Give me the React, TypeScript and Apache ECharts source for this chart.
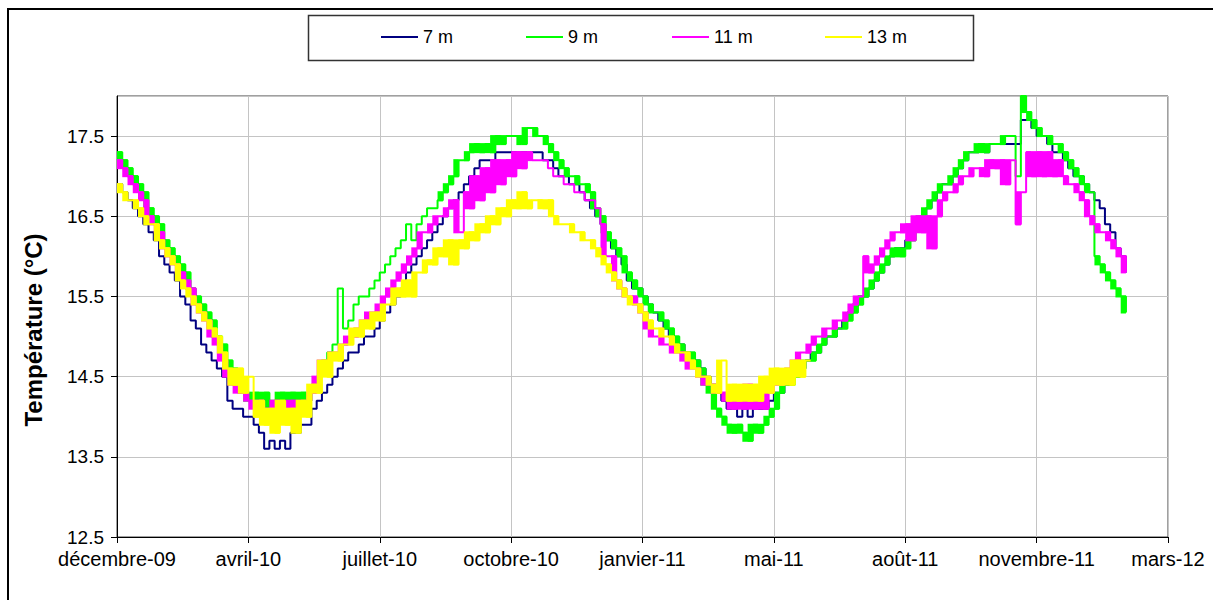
import React, { useEffect, useRef } from "react";
import * as echarts from "echarts";

// Day 0 of the x axis = 24 Dec 2009 ; samples every 4 days
const STEP_DAYS = 4;
const X_TICK_LABELS = [
  "décembre-09", "avril-10", "juillet-10", "octobre-10", "janvier-11",
  "mai-11", "août-11", "novembre-11", "mars-12",
];
const SERIES_NAMES = ["7 m", "9 m", "11 m", "13 m"];
const SERIES_COLORS = ["#000080", "#00FF00", "#FF00FF", "#FFFF00"];
// which series show a dense jitter band (drawn as filled steps)
const SERIES_NOISY = [false, true, true, true];
// day ranges where that jitter is small (plain thin line)
const SERIES_THIN_RANGES = [[], [[144, 244]], [[320, 368]], []];

// 7 m
const T7 = [
  16.9, 16.8, 16.7, 16.6, 16.5, 16.4, 16.3, 16.2, 16.0, 15.9,
  15.8, 15.7, 15.5, 15.4, 15.2, 15.1, 14.9, 14.8, 14.7, 14.6,
  14.5, 14.2, 14.1, 14.1, 14.0, 14.0, 13.9, 13.8, 13.6, 13.7,
  13.6, 13.7, 13.6, 13.8, 13.8, 13.9, 13.9, 14.1, 14.2, 14.3,
  14.4, 14.5, 14.6, 14.7, 14.8, 14.8, 14.9, 15.0, 15.0, 15.1,
  15.2, 15.3, 15.4, 15.5, 15.6, 15.8, 15.9, 16.0, 16.1, 16.2,
  16.3, 16.4, 16.5, 16.6, 16.7, 16.8, 16.9, 17.0, 17.1, 17.2,
  17.2, 17.2, 17.3, 17.3, 17.3, 17.3, 17.3, 17.3, 17.3, 17.3,
  17.3, 17.2, 17.2, 17.1, 17.0, 17.0, 16.9, 16.9, 16.8, 16.7,
  16.6, 16.5, 16.4, 16.2, 16.1, 16.0, 15.9, 15.7, 15.6, 15.6,
  15.5, 15.4, 15.3, 15.2, 15.1, 15.0, 14.9, 14.9, 14.8, 14.7,
  14.7, 14.6, 14.5, 14.4, 14.3, 14.2, 14.1, 14.1, 14.0, 14.1,
  14.0, 14.1, 14.1, 14.1, 14.2, 14.3, 14.3, 14.4, 14.5, 14.5,
  14.6, 14.7, 14.8, 14.8, 14.9, 15.0, 15.0, 15.1, 15.2, 15.3,
  15.4, 15.5, 15.5, 15.6, 15.7, 15.8, 15.9, 16.0, 16.1, 16.1,
  16.2, 16.3, 16.4, 16.5, 16.6, 16.7, 16.8, 16.9, 16.9, 17.0,
  17.1, 17.2, 17.3, 17.3, 17.4, 17.3, 17.4, 17.4, 17.4, 17.4,
  17.4, 17.4, 17.7, 17.7, 17.6, 17.5, 17.5, 17.4, 17.3, 17.3,
  17.2, 17.1, 17.0, 17.0, 16.9, 16.8, 16.7, 16.6, 16.4, 16.3,
  16.1, 16.0, 15.8,
];

// 9 m
const T9 = [
  17.3, 17.2, 17.1, 17.0, 16.9, 16.8, 16.6, 16.5, 16.4, 16.2,
  16.1, 16.0, 15.9, 15.8, 15.6, 15.5, 15.4, 15.3, 15.2, 15.0,
  14.9, 14.7, 14.6, 14.4, 14.3, 14.2, 14.3, 14.1, 14.3, 14.1,
  14.2, 14.3, 14.1, 14.3, 14.2, 14.3, 14.2, 14.4, 14.5, 14.7,
  14.8, 14.9, 15.6, 15.1, 15.2, 15.4, 15.5, 15.5, 15.6, 15.7,
  15.8, 15.9, 16.0, 16.1, 16.2, 16.4, 16.2, 16.4, 16.5, 16.6,
  16.6, 16.7, 16.8, 16.9, 17.0, 17.2, 17.2, 17.3, 17.4, 17.3,
  17.4, 17.3, 17.5, 17.4, 17.5, 17.5, 17.5, 17.4, 17.6, 17.6,
  17.5, 17.5, 17.4, 17.3, 17.2, 17.1, 17.0, 17.0, 16.9, 16.9,
  16.8, 16.6, 16.5, 16.3, 16.2, 16.1, 16.0, 15.8, 15.7, 15.6,
  15.5, 15.4, 15.3, 15.3, 15.2, 15.1, 15.0, 14.9, 14.8, 14.8,
  14.7, 14.6, 14.4, 14.3, 14.1, 14.0, 13.9, 13.8, 13.9, 13.8,
  13.7, 13.9, 13.8, 13.9, 14.0, 14.1, 14.3, 14.4, 14.4, 14.5,
  14.6, 14.7, 14.7, 14.8, 14.9, 15.0, 15.0, 15.1, 15.1, 15.2,
  15.3, 15.4, 15.5, 15.6, 15.7, 15.8, 15.9, 16.0, 16.1, 16.0,
  16.1, 16.2, 16.4, 16.5, 16.6, 16.7, 16.8, 16.9, 16.9, 17.0,
  17.1, 17.2, 17.3, 17.3, 17.4, 17.3, 17.4, 17.4, 17.4, 17.5,
  17.5, 17.0, 18.0, 17.8, 17.7, 17.6, 17.5, 17.5, 17.4, 17.4,
  17.3, 17.2, 17.1, 17.0, 16.9, 16.8, 16.0, 15.9, 15.8, 15.7,
  15.6, 15.5, 15.3,
];

// 11 m
const T11 = [
  17.2, 17.1, 17.0, 16.9, 16.8, 16.7, 16.5, 16.4, 16.3, 16.1,
  16.0, 15.9, 15.8, 15.7, 15.6, 15.4, 15.3, 15.2, 15.0, 14.9,
  14.7, 14.5, 14.4, 14.3, 14.3, 14.2, 14.1, 14.2, 14.1, 14.0,
  14.2, 14.1, 14.0, 14.2, 14.1, 14.2, 14.2, 14.3, 14.5, 14.7,
  14.7, 14.8, 14.8, 14.9, 15.0, 15.0, 15.1, 15.2, 15.3, 15.3,
  15.4, 15.5, 15.6, 15.7, 15.8, 15.9, 16.0, 16.1, 16.3, 16.3,
  16.4, 16.5, 16.5, 16.6, 16.7, 16.3, 16.8, 16.6, 17.0, 16.7,
  17.1, 16.8, 17.2, 16.9, 17.2, 17.0, 17.3, 17.1, 17.3, 17.2,
  17.2, 17.2, 17.1, 17.0, 17.0, 16.9, 16.9, 16.8, 16.8, 16.7,
  16.7, 16.6, 16.4, 16.0, 16.0, 15.7, 15.6, 15.5, 15.5, 15.4,
  15.3, 15.1, 15.0, 15.0, 14.9, 14.9, 14.8, 14.8, 14.7, 14.6,
  14.6, 14.5, 14.4, 14.4, 14.3, 14.3, 14.2, 14.1, 14.3, 14.1,
  14.4, 14.1, 14.3, 14.1, 14.3, 14.4, 14.4, 14.5, 14.6, 14.7,
  14.8, 14.8, 14.9, 15.0, 15.0, 15.1, 15.1, 15.2, 15.2, 15.3,
  15.4, 15.5, 16.0, 15.8, 15.9, 16.0, 16.1, 16.2, 16.3, 16.3,
  16.4, 16.2, 16.5, 16.3, 16.5, 16.1, 16.5, 16.7, 16.8, 16.8,
  16.9, 17.0, 17.0, 17.1, 17.1, 17.0, 17.2, 17.1, 17.2, 16.9,
  17.2, 16.4, 16.8, 17.3, 17.0, 17.3, 17.0, 17.3, 17.0, 17.2,
  17.0, 16.9, 16.9, 16.8, 16.7, 16.5, 16.4, 16.3, 16.3, 16.2,
  16.1, 16.0, 15.8,
];

// 13 m
const T13 = [
  16.9, 16.8, 16.7, 16.7, 16.6, 16.5, 16.4, 16.4, 16.2, 16.1,
  16.0, 15.9, 15.7, 15.6, 15.5, 15.4, 15.3, 15.2, 15.1, 15.0,
  14.8, 14.6, 14.4, 14.6, 14.3, 14.5, 14.0, 14.2, 13.9, 14.1,
  13.8, 14.2, 13.9, 14.1, 13.8, 14.2, 14.0, 14.4, 14.3, 14.7,
  14.5, 14.8, 14.7, 14.9, 14.9, 15.1, 15.0, 15.2, 15.1, 15.3,
  15.2, 15.4, 15.4, 15.6, 15.5, 15.7, 15.5, 15.8, 15.8, 15.95,
  15.9, 16.1, 16.0, 16.2, 15.9, 16.2, 16.1, 16.3, 16.2, 16.4,
  16.3, 16.5, 16.4, 16.6, 16.5, 16.7, 16.6, 16.8, 16.6, 16.7,
  16.7, 16.6, 16.7, 16.5, 16.4, 16.4, 16.4, 16.3, 16.3, 16.2,
  16.2, 16.1, 16.0, 15.9, 15.8, 15.7, 15.6, 15.5, 15.4, 15.4,
  15.3, 15.2, 15.1, 15.1, 15.0, 15.0, 14.9, 14.8, 14.8, 14.7,
  14.6, 14.5, 14.5, 14.4, 14.3, 14.7, 14.2, 14.4, 14.2, 14.4,
  14.2, 14.4, 14.2, 14.5, 14.3, 14.6, 14.4, 14.6, 14.4, 14.7,
  14.5, 14.7, 14.7,
];

const SERIES_VALUES = [T7, T9, T11, T13];
const LEGEND_LEFT = [381, 526, 672, 825];
const FONT = '"Liberation Sans", Arial, Helvetica, sans-serif';

// Between two consecutive samples the original sensor jitters between both levels,
// which prints as a filled block; big isolated jumps stay thin lines.
function jitterBlocks(vals: number[], thin: number[][]) {
  const out: number[][] = [];
  for (let k = 0; k < vals.length - 1; k++) {
    const day = k * STEP_DAYS;
    if (thin.some((r) => day >= r[0] && day < r[1])) continue;
    const b = vals[k], c = vals[k + 1];
    const d = Math.abs(b - c);
    if (d > 0.001 && d <= 0.45) {
      out.push([day, day + STEP_DAYS, Math.min(b, c), Math.max(b, c)]);
    }
  }
  return out;
}

export default function App() {
  const ref = useRef<HTMLDivElement>(null);
  useEffect(() => {
    if (!ref.current) return;
    const chart = echarts.init(ref.current, undefined, { renderer: "svg" });
    const series: any[] = [];
    SERIES_NAMES.forEach((n, i) => {
      series.push({
        name: n,
        type: "line",
        step: "end",
        symbol: "none",
        showSymbol: false,
        color: SERIES_COLORS[i],
        lineStyle: { color: SERIES_COLORS[i], width: 2 },
        emphasis: { disabled: true },
        data: SERIES_VALUES[i].map((v, k) => [k * STEP_DAYS, v]),
        z: 2 + i,
      });
      if (SERIES_NOISY[i]) {
        series.push({
          name: n + " bruit",
          type: "custom",
          z: 2 + i,
          clip: true,
          silent: true,
          encode: { x: [0, 1], y: [2, 3] },
          data: jitterBlocks(SERIES_VALUES[i], SERIES_THIN_RANGES[i] as number[][]),
          renderItem: (params: any, api: any) => {
            const p0 = api.coord([api.value(0), api.value(3)]);
            const p1 = api.coord([api.value(1), api.value(2)]);
            return {
              type: "rect",
              shape: { x: p0[0], y: p0[1] - 1, width: p1[0] - p0[0], height: p1[1] - p0[1] + 2 },
              style: { fill: SERIES_COLORS[i] },
            };
          },
        });
      }
    });
    const option = {
      animation: false,
      backgroundColor: "#ffffff",
      tooltip: { show: false },
      grid: {
        left: 117, right: 45, top: 96, bottom: 63,
        show: true, borderColor: "#404040", borderWidth: 1,
      },
      legend: SERIES_NAMES.map((n, i) => ({
        data: [n],
        left: LEGEND_LEFT[i],
        top: 28,
        padding: 0,
        icon: "rect",
        itemWidth: 37,
        itemHeight: 2,
        selectedMode: false,
        textStyle: { fontSize: 18, color: "#000", fontFamily: FONT, lineHeight: 18 },
      })),
      xAxis: {
        type: "value",
        min: 0,
        max: 800,
        interval: 100,
        axisLine: { show: true, onZero: false, lineStyle: { color: "#000", width: 1 } },
        axisTick: { show: true, length: 6, lineStyle: { color: "#000" } },
        axisLabel: {
          formatter: (v: number) => X_TICK_LABELS[Math.round(v / 100)] ?? "",
          margin: 12,
          fontSize: 20,
          color: "#000",
          fontFamily: FONT,
        },
        splitLine: { show: true, lineStyle: { color: "#c4c4c4", width: 1 } },
      },
      yAxis: {
        type: "value",
        min: 12.5,
        max: 18,
        interval: 1,
        axisLine: { show: true, lineStyle: { color: "#000", width: 1 } },
        axisTick: { show: true, length: 6, lineStyle: { color: "#000" } },
        axisLabel: {
          formatter: (v: number) => (v > 17.9 ? "" : v.toFixed(1)),
          showMaxLabel: false,
          margin: 13,
          fontSize: 19,
          color: "#000",
          fontFamily: FONT,
        },
        splitLine: { show: true, lineStyle: { color: "#c4c4c4", width: 1 } },
      },
      series,
      graphic: [
        {
          type: "rect",
          silent: true,
          shape: { x: 8, y: 9, width: 1400, height: 800 },
          style: { fill: "none", stroke: "#000", lineWidth: 2 },
        },
        {
          type: "rect",
          silent: true,
          shape: { x: 308.5, y: 15.5, width: 665, height: 45 },
          style: { fill: "none", stroke: "#333", lineWidth: 1.5 },
        },
        {
          type: "text",
          silent: true,
          x: 33,
          y: 330,
          rotation: Math.PI / 2,
          style: {
            text: "Température (°C)",
            font: `bold 24px ${FONT}`,
            fill: "#000",
            textAlign: "center",
            textVerticalAlign: "middle",
          },
        },
      ],
    };
    chart.setOption(option as any);
    return () => chart.dispose();
  }, []);
  return (
    <div
      ref={ref}
      style={{ position: "absolute", left: 0, top: 0, width: 1213, height: 600, background: "#fff" }}
    />
  );
}
